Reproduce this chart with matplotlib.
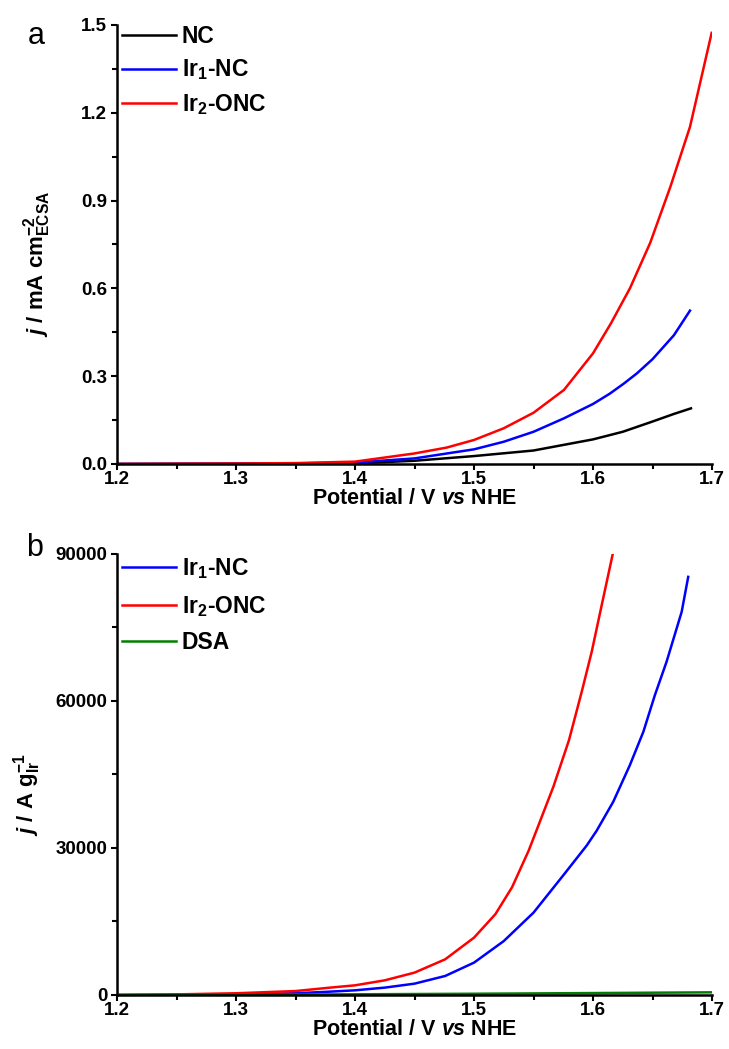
import matplotlib
matplotlib.use("Agg")
import matplotlib.pyplot as plt
from matplotlib.ticker import MultipleLocator, FormatStrFormatter

# ---- data: (a) ECSA-normalised current density, mA cm^-2 ----
pot_nc = [1.20, 1.25, 1.30, 1.35, 1.40, 1.45, 1.50, 1.55, 1.60, 1.625, 1.65, 1.668, 1.6823]
j_nc = [0.0, 0.0003, 0.0006, 0.001, 0.002, 0.011, 0.027, 0.046, 0.084, 0.110, 0.145, 0.171, 0.190]

pot_ir1 = [1.20, 1.25, 1.30, 1.35, 1.40, 1.45, 1.50, 1.525, 1.55, 1.5756, 1.60, 1.614, 1.626, 1.637,
           1.65, 1.668, 1.6815]
j_ir1 = [0.0, 0.0005, 0.001, 0.002, 0.005, 0.019, 0.050, 0.076, 0.110, 0.156, 0.205, 0.240, 0.275, 0.310,
         0.358, 0.440, 0.524]

pot_ir2 = [1.20, 1.25, 1.30, 1.35, 1.40, 1.45, 1.477, 1.50, 1.525, 1.55, 1.5756, 1.60, 1.615, 1.631,
           1.648, 1.665, 1.6815, 1.6997]
j_ir2 = [0.0, 0.0008, 0.0015, 0.003, 0.008, 0.036, 0.056, 0.082, 0.122, 0.175, 0.253, 0.378, 0.480, 0.600,
         0.755, 0.947, 1.152, 1.473]

# ---- data: (b) Ir-mass-normalised current, A g^-1 ----
pot_m_ir1 = [1.20, 1.25, 1.30, 1.35, 1.379, 1.40, 1.425, 1.45, 1.4758, 1.50, 1.525, 1.55, 1.5756,
             1.5947, 1.603, 1.617, 1.631, 1.6423, 1.652, 1.6618, 1.6745, 1.680]
j_m_ir1 = [0, 40, 120, 350, 680, 950, 1500, 2310, 3880, 6600, 11000, 16800, 24600,
           30500, 33500, 39430, 46920, 53710, 61200, 68000, 78190, 85330]

pot_m_ir2 = [1.20, 1.25, 1.30, 1.35, 1.379, 1.40, 1.425, 1.45, 1.4758, 1.50, 1.518, 1.532, 1.546,
             1.5667, 1.5798, 1.5905, 1.5989, 1.6073, 1.6165]
j_m_ir2 = [0, 120, 350, 800, 1500, 1970, 2990, 4560, 7280, 11700, 16500, 22000, 29500,
           42500, 52000, 61870, 70030, 79560, 89900]

pot_dsa = [1.20, 1.30, 1.40, 1.50, 1.60, 1.70]
j_dsa = [0, 50, 136, 250, 390, 540]

labels_a = ["NC", r"Ir$_1$-NC", r"Ir$_2$-ONC"]
labels_b = [r"Ir$_1$-NC", r"Ir$_2$-ONC", "DSA"]

plt.rcParams.update({
    "font.family": "Liberation Sans",
    "font.weight": "bold",
    "axes.labelweight": "bold",
    "mathtext.fontset": "custom",
    "mathtext.rm": "Liberation Sans:bold",
    "mathtext.bf": "Liberation Sans:bold",
    "mathtext.it": "Liberation Sans:bold:italic",
    "mathtext.default": "rm",
})

fig = plt.figure(figsize=(7.29, 10.49), dpi=100)
ax_a = fig.add_axes([0.1605, 0.5577, 0.8162, 0.4185])
ax_b = fig.add_axes([0.1605, 0.0515, 0.8162, 0.4204])

lw = 1.8

ax_a.plot(pot_nc, j_nc, color="black", lw=lw, label=labels_a[0])
ax_a.plot(pot_ir1, j_ir1, color="#0000ff", lw=lw, label=labels_a[1])
ax_a.plot(pot_ir2, j_ir2, color="#ff0000", lw=lw, label=labels_a[2])

ax_b.plot(pot_m_ir1, j_m_ir1, color="#0000ff", lw=lw, label=labels_b[0])
ax_b.plot(pot_m_ir2, j_m_ir2, color="#ff0000", lw=lw, label=labels_b[1])
ax_b.plot(pot_dsa, j_dsa, color="#008000", lw=lw, label=labels_b[2])

ax_a.set_ylim(0, 1.5)
ax_a.yaxis.set_major_locator(MultipleLocator(0.3))
ax_a.yaxis.set_minor_locator(MultipleLocator(0.15))
ax_a.yaxis.set_major_formatter(FormatStrFormatter("%.1f"))

ax_b.set_ylim(0, 90000)
ax_b.yaxis.set_major_locator(MultipleLocator(30000))
ax_b.yaxis.set_minor_locator(MultipleLocator(15000))

for ax in (ax_a, ax_b):
    ax.set_xlim(1.2, 1.7)
    ax.xaxis.set_major_locator(MultipleLocator(0.1))
    ax.xaxis.set_minor_locator(MultipleLocator(0.05))
    ax.xaxis.set_major_formatter(FormatStrFormatter("%.1f"))
    ax.spines["top"].set_visible(False)
    ax.spines["right"].set_visible(False)
    for s in ("left", "bottom"):
        ax.spines[s].set_linewidth(1.8)
    ax.tick_params(which="major", direction="out", length=4.5, width=1.5,
                   labelsize=13.5)
    ax.tick_params(which="minor", direction="out", length=3.5, width=1.5)
    ax.tick_params(axis="x", which="major", pad=0.5)
    ax.tick_params(axis="y", which="major", pad=2.5)
    ax.set_xlabel(r"Potential / V $\mathit{vs}$ NHE", fontsize=15.5, labelpad=0)

ax_a.legend(loc="upper left", bbox_to_anchor=(0.008, 1.0), frameon=False,
            fontsize=16.5, handlelength=2.35, handletextpad=0.26,
            borderaxespad=0.0, borderpad=0.0, labelspacing=0.42)
ax_b.legend(loc="upper left", bbox_to_anchor=(0.008, 0.995), frameon=False,
            fontsize=16.5, handlelength=2.35, handletextpad=0.26,
            borderaxespad=0.0, borderpad=0.0, labelspacing=0.55)

ax_a.set_ylabel(r"$\mathit{j}$ / mA cm$_{\mathrm{ECSA}}^{-2}$", fontsize=16)
ax_b.set_ylabel(r"$\mathit{j}$ / A g$_{\mathrm{Ir}}^{-1}$", fontsize=16)
ax_a.yaxis.set_label_coords(-0.108, 0.455)
ax_b.yaxis.set_label_coords(-0.124, 0.455)

fig.text(0.038, 0.966, "a", fontsize=22, fontweight="normal", va="center", ha="left")
fig.text(0.036, 0.478, "b", fontsize=22, fontweight="normal", va="center", ha="left")

fig.savefig("out.png", dpi=100)
